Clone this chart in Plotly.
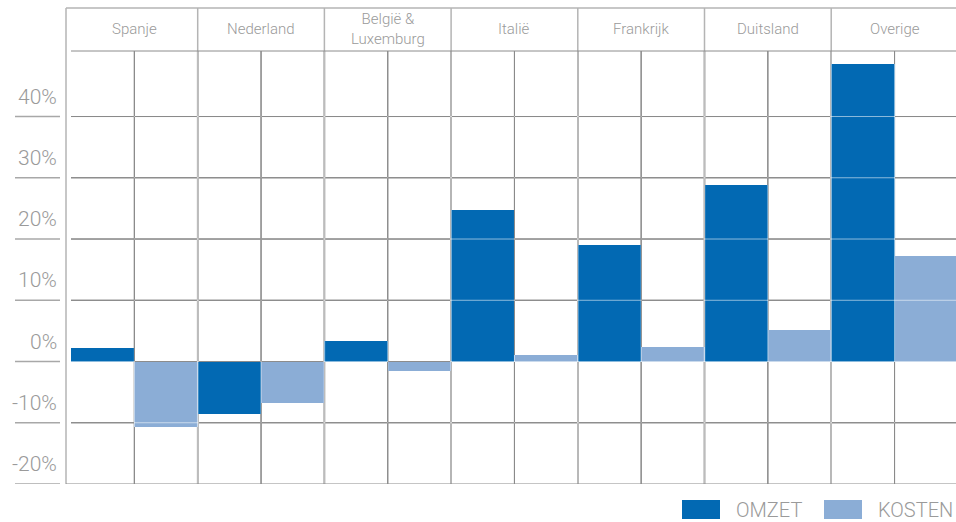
import plotly.graph_objects as go

# Regions and growth figures (%)
regions = ["Spanje", "Nederland", "België &<br>Luxemburg", "Italië",
           "Frankrijk", "Duitsland", "Overige"]
omzet = [2.2, -8.5, 3.3, 24.8, 19.0, 28.9, 48.5]
kosten = [-10.7, -6.8, -1.6, 1.1, 2.3, 5.1, 17.3]
y_ticks = [-20, -10, 0, 10, 20, 30, 40]
y_tick_labels = ["-20%", "-10%", "0%", "10%", "20%", "30%", "40%"]
series_names = ["OMZET", "KOSTEN"]

C_OMZET = "#0269b3"
C_KOSTEN = "#8badd6"
TEXT = "#9a9a9a"
FONT = "Roboto"

# a dark line under the bars plus a translucent white one over them:
# mid grey on white, a pale stripe across the bars
GRID_UNDER = "#000000"
GRID_OVER = "rgba(255,255,255,0.55)"
DIV_UNDER = "#6a6a6a"
DIV_OVER = "rgba(255,255,255,0.55)"
FRAME = "#b4b4b4"

W, H = 956, 522
ML, MR, MT, MB = 71, 0, 51, 38
PW, PH = W - ML - MR, H - MT - MB


def px_x(x):
    return (x - ML) / PW


def px_y(y):
    return (H - MB - y) / PH


x_idx = list(range(len(regions)))

fig = go.Figure()
fig.add_trace(go.Bar(x=x_idx, y=omzet, name=series_names[0],
                     marker=dict(color=C_OMZET, line=dict(width=0)),
                     showlegend=False))
fig.add_trace(go.Bar(x=x_idx, y=kosten, name=series_names[1],
                     marker=dict(color=C_KOSTEN, line=dict(width=0)),
                     showlegend=False))

shapes = []
top_y = px_y(8)
left_x = px_x(66)


def hline(v, color, width, layer):
    return dict(type="line", xref="paper", yref="y", x0=0, x1=1, y0=v, y1=v,
                line=dict(color=color, width=width), layer=layer)


def vline(x, y1, color, width, layer):
    return dict(type="line", xref="x", yref="paper", x0=x, x1=x, y0=0, y1=y1,
                line=dict(color=color, width=width), layer=layer)


# horizontal grid
for v in y_ticks[1:]:
    shapes.append(hline(v, GRID_UNDER, 1, "below"))
    shapes.append(hline(v, GRID_OVER, 1, "above"))
# mid-region dividers (between the two bars)
for i in x_idx:
    shapes.append(vline(i, 1, GRID_UNDER, 1, "below"))
    shapes.append(vline(i, 1, GRID_OVER, 1, "above"))
# region dividers running through the header band
for i in x_idx[1:]:
    shapes.append(vline(i - 0.5, top_y, FRAME, 1.5, "below"))
    shapes.append(vline(i - 0.5, 1, DIV_UNDER, 1.5, "below"))
    shapes.append(vline(i - 0.5, 1, DIV_OVER, 1.5, "above"))

# outer frame
shapes.append(dict(type="line", xref="paper", yref="paper", x0=left_x, x1=left_x,
                   y0=0, y1=top_y, line=dict(color=FRAME, width=1.5)))
shapes.append(dict(type="line", xref="paper", yref="paper", x0=left_x, x1=1,
                   y0=top_y, y1=top_y, line=dict(color=FRAME, width=1.5)))
shapes.append(dict(type="line", xref="paper", yref="paper", x0=0, x1=1,
                   y0=1, y1=1, line=dict(color="#8c8c8c", width=1)))
shapes.append(dict(type="line", xref="paper", yref="y", x0=left_x, x1=1,
                   y0=y_ticks[0], y1=y_ticks[0], line=dict(color="#8c8c8c", width=1.2)))

# tick stubs left of the frame
for v in y_ticks:
    shapes.append(dict(type="line", xref="paper", yref="y", x0=px_x(15), x1=px_x(60),
                       y0=v, y1=v, line=dict(color="#a8a8a8", width=1.5)))

annotations = []
for v, lab in zip(y_ticks, y_tick_labels):
    annotations.append(dict(xref="paper", yref="y", x=px_x(59), y=v, text=lab,
                            xanchor="right", yanchor="bottom", showarrow=False, yshift=6,
                            font=dict(family=FONT, size=21, color=TEXT, weight=300)))
for i, r in zip(x_idx, regions):
    annotations.append(dict(xref="x", yref="paper", x=i, y=px_y(29.5), text=r,
                            xanchor="center", yanchor="middle", showarrow=False,
                            font=dict(family=FONT, size=15, color=TEXT, weight=300)))

# legend swatches and labels
for (x0, x1, tx), col, name in zip([(682, 720, 734), (824, 862, 876)],
                                   [C_OMZET, C_KOSTEN], series_names):
    shapes.append(dict(type="rect", xref="paper", yref="paper",
                       x0=px_x(x0), x1=px_x(x1), y0=px_y(519), y1=px_y(500),
                       line=dict(width=0), fillcolor=col))
    annotations.append(dict(xref="paper", yref="paper", x=px_x(tx), y=px_y(510),
                            text=name, xanchor="left", yanchor="middle", showarrow=False,
                            font=dict(family=FONT, size=20, color=TEXT, weight=300)))

fig.update_layout(
    width=W, height=H, autosize=False,
    margin=dict(l=ML, r=MR, t=MT, b=MB, pad=0),
    paper_bgcolor="white", plot_bgcolor="white",
    barmode="group", bargap=0, bargroupgap=0,
    shapes=shapes, annotations=annotations,
    showlegend=False,
    xaxis=dict(range=[-0.5, -0.5 + (W - ML) / 126.7], showticklabels=False,
               showgrid=False, zeroline=False, ticks="", showline=False,
               fixedrange=True),
    yaxis=dict(range=[-20, 50.7], showticklabels=False, showgrid=False,
               zeroline=False, ticks="", showline=False, fixedrange=True),
)

fig.write_html("out.html")
